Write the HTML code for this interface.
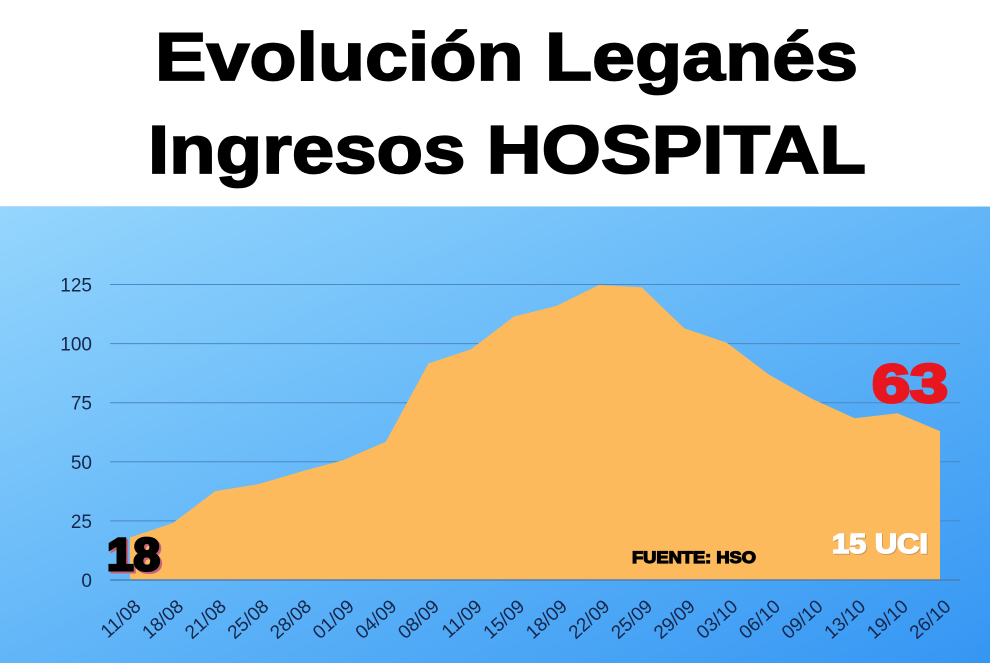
<!DOCTYPE html>
<html>
<head>
<meta charset="utf-8">
<style>
  html,body{margin:0;padding:0;background:#fff;}
  body{width:990px;height:663px;overflow:hidden;}
  svg{display:block;}
</style>
</head>
<body>
<svg width="990" height="663" viewBox="0 0 990 663" xmlns="http://www.w3.org/2000/svg">
  <defs>
    <linearGradient id="bg" x1="0" y1="0" x2="1" y2="1">
      <stop offset="0" stop-color="#95d6fd"/>
      <stop offset="0.5" stop-color="#62b6f8"/>
      <stop offset="1" stop-color="#3596f3"/>
    </linearGradient>
  </defs>

  <!-- white title area -->
  <rect x="0" y="0" width="990" height="206" fill="#ffffff"/>
  <g font-family="'Liberation Sans', sans-serif" font-weight="bold" fill="#000" stroke="#000" stroke-width="1.8">
    <text x="155" y="80" font-size="68" textLength="703" lengthAdjust="spacingAndGlyphs">Evolución Leganés</text>
    <text x="148" y="173" font-size="68" textLength="718" lengthAdjust="spacingAndGlyphs">Ingresos HOSPITAL</text>
  </g>

  <!-- chart panel -->
  <rect x="0" y="206" width="990" height="457" fill="url(#bg)"/>
  <line x1="0" y1="206.5" x2="990" y2="206.5" stroke="#b4dcf2" stroke-width="1"/>

  <!-- gridlines -->
  <g stroke="#4b88c4" stroke-width="1">
    <line x1="110" y1="284.5" x2="960" y2="284.5"/>
    <line x1="110" y1="343.6" x2="960" y2="343.6"/>
    <line x1="110" y1="402.7" x2="960" y2="402.7"/>
    <line x1="110" y1="461.8" x2="960" y2="461.8"/>
    <line x1="110" y1="520.9" x2="960" y2="520.9"/>
  </g>

  <!-- area -->
  <polygon fill="#fdba5c" points="130,580 130,537.4 172.6,523.3 215.3,491.1 257.9,484.3 300.5,471.7 343.2,460.1 385.8,441.7 428.4,363.5 471.1,349.3 513.7,316.6 556.3,306 598.9,285 641.6,287.3 684.2,328.2 726.8,342.7 769.5,375 812.1,398.9 854.7,418.3 897.3,413.3 940,431.1 940,580"/>
  <line x1="110" y1="580" x2="960" y2="580" stroke="#4b7fb5" stroke-width="1.5"/>

  <!-- y labels -->
  <g font-family="'Liberation Sans', sans-serif" font-size="19" fill="#16264a" text-anchor="end">
    <text x="92" y="291.5">125</text>
    <text x="92" y="350.6">100</text>
    <text x="92" y="409.7">75</text>
    <text x="92" y="468.8">50</text>
    <text x="92" y="527.9">25</text>
    <text x="92" y="587">0</text>
  </g>

  <!-- x labels -->
  <g font-family="'Liberation Sans', sans-serif" font-size="19" fill="#16264a" text-anchor="end">
    <text transform="translate(142,608) rotate(-42)">11/08</text>
    <text transform="translate(184.6,608) rotate(-42)">18/08</text>
    <text transform="translate(227.3,608) rotate(-42)">21/08</text>
    <text transform="translate(269.9,608) rotate(-42)">25/08</text>
    <text transform="translate(312.5,608) rotate(-42)">28/08</text>
    <text transform="translate(355.2,608) rotate(-42)">01/09</text>
    <text transform="translate(397.8,608) rotate(-42)">04/09</text>
    <text transform="translate(440.4,608) rotate(-42)">08/09</text>
    <text transform="translate(483.1,608) rotate(-42)">11/09</text>
    <text transform="translate(525.7,608) rotate(-42)">15/09</text>
    <text transform="translate(568.3,608) rotate(-42)">18/09</text>
    <text transform="translate(610.9,608) rotate(-42)">22/09</text>
    <text transform="translate(653.6,608) rotate(-42)">25/09</text>
    <text transform="translate(696.2,608) rotate(-42)">29/09</text>
    <text transform="translate(738.8,608) rotate(-42)">03/10</text>
    <text transform="translate(781.5,608) rotate(-42)">06/10</text>
    <text transform="translate(824.1,608) rotate(-42)">09/10</text>
    <text transform="translate(866.7,608) rotate(-42)">13/10</text>
    <text transform="translate(909.3,608) rotate(-42)">19/10</text>
    <text transform="translate(952,608) rotate(-42)">26/10</text>
  </g>

  <!-- annotations -->
  <g font-family="'Liberation Sans', sans-serif" font-weight="bold">
    <text x="109" y="572" font-size="45" fill="#c9607a" stroke="#c9607a" stroke-width="3" textLength="53" lengthAdjust="spacingAndGlyphs">18</text>
    <text x="107" y="570" font-size="45" fill="#000" stroke="#000" stroke-width="3" textLength="53" lengthAdjust="spacingAndGlyphs">18</text>

    <text x="872" y="402" font-size="54" fill="#e8161e" stroke="#e8161e" stroke-width="3" textLength="76" lengthAdjust="spacingAndGlyphs">63</text>

    <text x="833" y="554" font-size="28" fill="#c99a62" stroke="#c99a62" stroke-width="1.5" textLength="96" lengthAdjust="spacingAndGlyphs">15 UCI</text>
    <text x="832" y="553" font-size="28" fill="#ffffff" stroke="#ffffff" stroke-width="1.5" textLength="96" lengthAdjust="spacingAndGlyphs">15 UCI</text>

    <text x="632" y="563" font-size="16.5" fill="#000" stroke="#000" stroke-width="1.2" textLength="124" lengthAdjust="spacingAndGlyphs">FUENTE: HSO</text>
  </g>
</svg>
</body>
</html>
